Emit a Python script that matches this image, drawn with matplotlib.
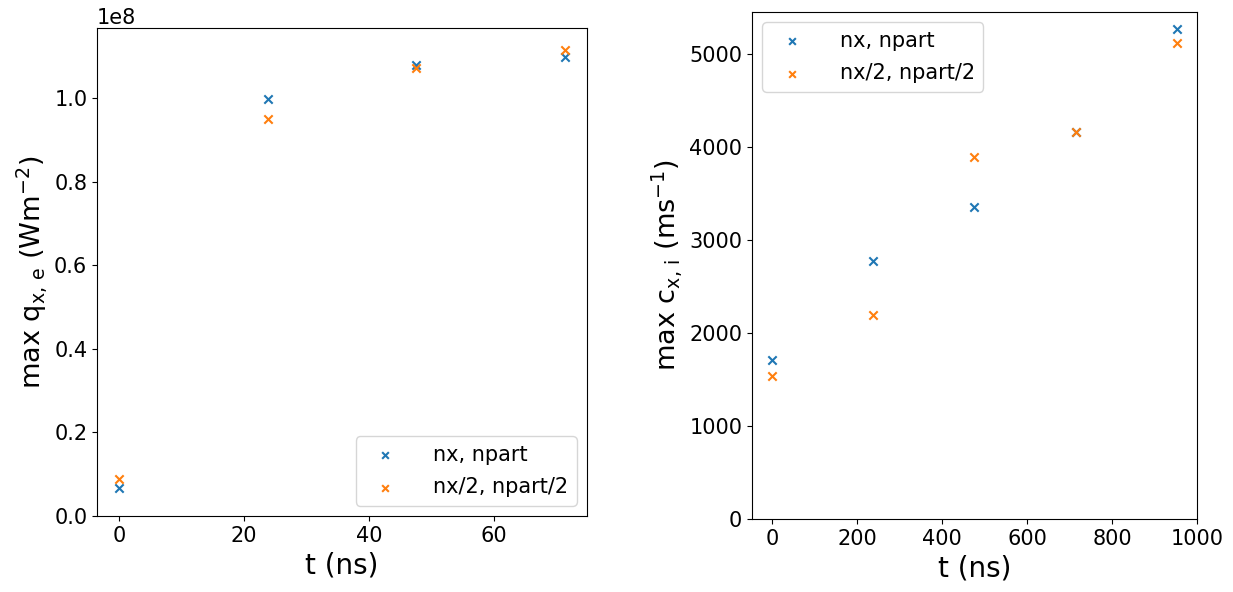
import numpy as np
import matplotlib
matplotlib.use('Agg')
import matplotlib.pyplot as plt
from matplotlib.ticker import MultipleLocator

# left panel: max electron heat flux
t_q = [0, 23.8, 47.6, 71.4]
q_full = [0.067e8, 0.998e8, 1.079e8, 1.100e8]
q_half = [0.088e8, 0.951e8, 1.072e8, 1.116e8]

# right panel: max ion velocity
t_c = [0, 238, 476, 714, 952]
c_full = [1706, 2779, 3360, 4170, 5270]
c_half = [1540, 2200, 3900, 4170, 5120]

labels = ['nx, npart', 'nx/2, npart/2']

fig = plt.figure(figsize=(12.33, 5.92), dpi=100)
ax1 = fig.add_axes([0.0787, 0.1284, 0.3974, 0.8243])
ax2 = fig.add_axes([0.6099, 0.1233, 0.3609, 0.8564])

ax1.scatter(t_q, q_full, marker='x', label=labels[0])
ax1.scatter(t_q, q_half, marker='x', label=labels[1])
ax1.set_ylim(bottom=0)
ax1.xaxis.set_major_locator(MultipleLocator(20))
ax1.set_xlabel('t (ns)', fontsize=20)
ax1.set_ylabel(r'max q$_{\mathrm{x,\,e}}$ (Wm$^{-2}$)', fontsize=19.5)
ax1.tick_params(labelsize=15)
ax1.yaxis.get_offset_text().set_fontsize(15)
ax1.legend(loc='lower right', fontsize=15, markerscale=0.8, labelspacing=0.6,
           handletextpad=1.3)

ax2.scatter(t_c, c_full, marker='x', label=labels[0])
ax2.scatter(t_c, c_half, marker='x', label=labels[1])
ax2.set_ylim(bottom=0)
ax2.set_xlim(-47.6, 1000)
ax2.xaxis.set_major_locator(MultipleLocator(200))
ax2.set_xlabel('t (ns)', fontsize=20)
ax2.set_ylabel(r'max c$_{\mathrm{x,\,i}}$ (ms$^{-1}$)', fontsize=19.5)
ax2.tick_params(labelsize=15)
ax2.legend(loc='upper left', fontsize=15, markerscale=0.8, labelspacing=0.6,
           handletextpad=1.3)

fig.savefig('out.png', dpi=100)
